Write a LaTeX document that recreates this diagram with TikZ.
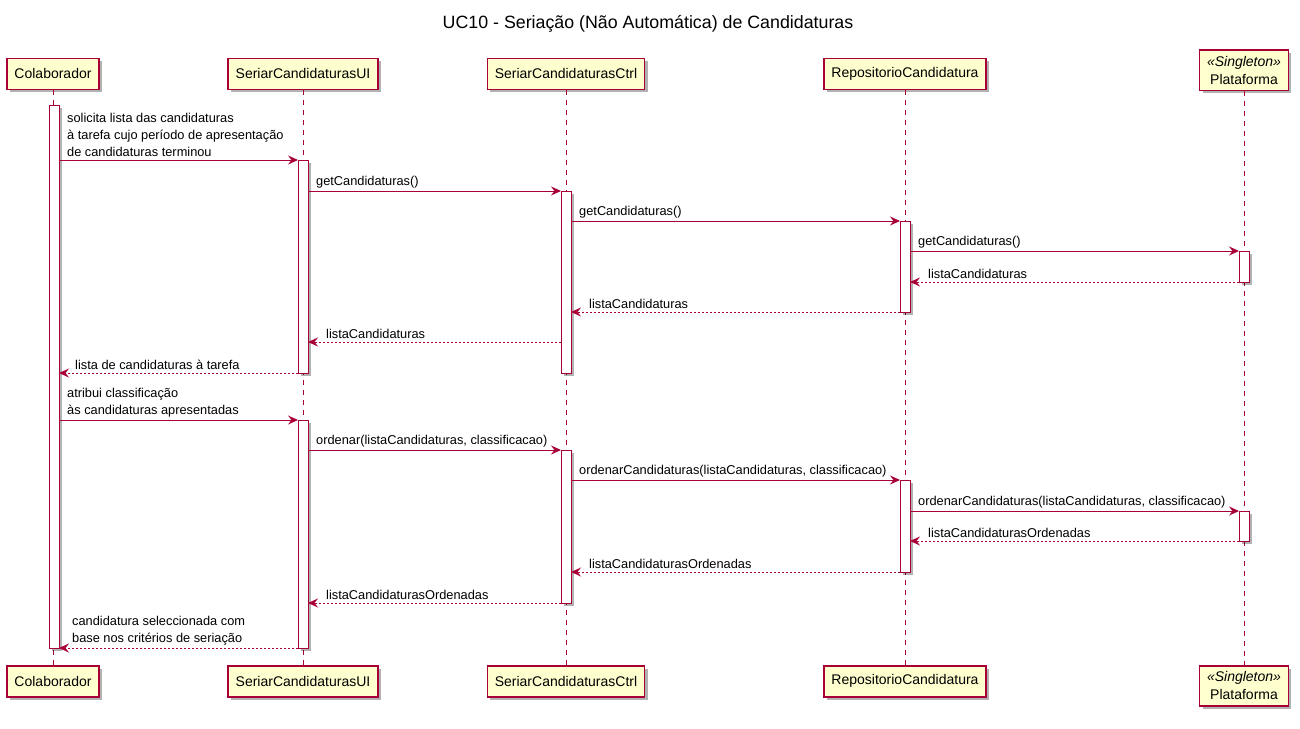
\documentclass[tikz,border=0pt]{standalone}
\usepackage{fontspec}
\setmainfont{Liberation Sans}
\usetikzlibrary{arrows.meta,shadows}
\definecolor{pu}{HTML}{A80036}
\definecolor{pufill}{HTML}{FEFECE}
\begin{document}
\begin{tikzpicture}[x=1pt,y=-1pt,
 shad/.style={drop shadow={shadow xshift=3pt,shadow yshift=-3pt,opacity=0.3,fill=black}},
 part/.style={draw=pu,fill=pufill,line width=1.5pt,inner xsep=7.5pt,minimum height=31pt,font=\fontsize{14}{18}\selectfont,shad},
 act/.style={draw=pu,fill=white,line width=1pt,minimum width=10pt,inner sep=0pt,outer sep=0pt,shad},
 life/.style={draw=pu,line width=1pt,dash pattern=on 5pt off 5pt},
 call/.style={draw=pu,line width=1pt,-{Stealth[length=10pt,width=9pt,inset=3.5pt]}},
 ret/.style={call,dash pattern=on 2pt off 2pt},
 lbl/.style={font=\fontsize{12.8}{17}\selectfont,inner sep=0pt,anchor=south west,align=left},
 ]
\useasboundingbox (0,0) rectangle (1300,728);
\node[font=\fontsize{17.8}{20}\selectfont] (title) at (648,24) {UC10 - Seriação (Não Automática) de Candidaturas};

% participants
\node[part,anchor=south] (pC) at (53,90) {Colaborador};
\node[part,anchor=south] (pU) at (303,90) {SeriarCandidaturasUI};
\node[part,anchor=south] (pK) at (566,90) {SeriarCandidaturasCtrl};
\node[part,anchor=south] (pR) at (905,90) {RepositorioCandidatura};
\node[part,anchor=south,align=center,inner ysep=6pt] (pP) at (1244,91) {\textit{«Singleton»}\\Plataforma};

\node[part,anchor=north] (bC) at (53,665) {Colaborador};
\node[part,anchor=north] (bU) at (303,665) {SeriarCandidaturasUI};
\node[part,anchor=north] (bK) at (566,665) {SeriarCandidaturasCtrl};
\node[part,anchor=north] (bR) at (905,665) {RepositorioCandidatura};
\node[part,anchor=north,align=center,inner ysep=6pt] (bP) at (1244,665) {\textit{«Singleton»}\\Plataforma};

% lifelines
\draw[life] (pC.south) -- (bC.north);
\draw[life] (pU.south) -- (bU.north);
\draw[life] (pK.south) -- (bK.north);
\draw[life] (pR.south) -- (bR.north);
\draw[life] (pP.south) -- (bP.north);

% activations
\node[act,minimum height=543pt] (aC) at (54,376.5) {};
\node[act,minimum height=213pt] (aU1) at (303,266.5) {};
\node[act,minimum height=228pt] (aU2) at (303,534) {};
\node[act,minimum height=182pt] (aK1) at (566,282) {};
\node[act,minimum height=153pt] (aK2) at (566,526.5) {};
\node[act,minimum height=91pt] (aR1) at (905,266.5) {};
\node[act,minimum height=92pt] (aR2) at (905,526) {};
\node[act,minimum height=31pt] (aP1) at (1244,266.5) {};
\node[act,minimum height=30pt] (aP2) at (1244,526) {};

% messages
\draw[call] (aC.east |- 0,160) -- (aU1.west |- 0,160);
\node[lbl] (l1) at (67,157) {solicita lista das candidaturas\\à tarefa cujo período de apresentação\\de candidaturas terminou};
\draw[call] (aU1.east |- 0,191) -- (aK1.west |- 0,191);
\node[lbl] (l2) at (316,188) {getCandidaturas()};
\draw[call] (aK1.east |- 0,221) -- (aR1.west |- 0,221);
\node[lbl] (l3) at (579,218) {getCandidaturas()};
\draw[call] (aR1.east |- 0,251) -- (aP1.west |- 0,251);
\node[lbl] (l4) at (918,248) {getCandidaturas()};
\draw[ret] (aP1.west |- 0,282) -- (aR1.east |- 0,282);
\node[lbl] (l5) at (928,279) {listaCandidaturas};
\draw[ret] (aR1.west |- 0,312) -- (aK1.east |- 0,312);
\node[lbl] (l6) at (589,309) {listaCandidaturas};
\draw[ret] (aK1.west |- 0,342) -- (aU1.east |- 0,342);
\node[lbl] (l7) at (326,339) {listaCandidaturas};
\draw[ret] (aU1.west |- 0,373) -- (aC.east |- 0,373);
\node[lbl] (l8) at (75,370) {lista de candidaturas à tarefa};

\draw[call] (aC.east |- 0,420) -- (aU2.west |- 0,420);
\node[lbl] (l9) at (67,417) {atribui classificação\\às candidaturas apresentadas};
\draw[call] (aU2.east |- 0,450) -- (aK2.west |- 0,450);
\node[lbl] (l10) at (316,447) {ordenar(listaCandidaturas, classificacao)};
\draw[call] (aK2.east |- 0,480) -- (aR2.west |- 0,480);
\node[lbl] (l11) at (579,477) {ordenarCandidaturas(listaCandidaturas, classificacao)};
\draw[call] (aR2.east |- 0,511) -- (aP2.west |- 0,511);
\node[lbl] (l12) at (918,508) {ordenarCandidaturas(listaCandidaturas, classificacao)};
\draw[ret] (aP2.west |- 0,541) -- (aR2.east |- 0,541);
\node[lbl] (l13) at (928,538) {listaCandidaturasOrdenadas};
\draw[ret] (aR2.west |- 0,572) -- (aK2.east |- 0,572);
\node[lbl] (l14) at (589,569) {listaCandidaturasOrdenadas};
\draw[ret] (aK2.west |- 0,603) -- (aU2.east |- 0,603);
\node[lbl] (l15) at (326,600) {listaCandidaturasOrdenadas};
\draw[ret] (aU2.west |- 0,648) -- (aC.east |- 0,648);
\node[lbl] (l16) at (72,645) {candidatura seleccionada com\\base nos critérios de seriação};
\end{tikzpicture}
\end{document}
